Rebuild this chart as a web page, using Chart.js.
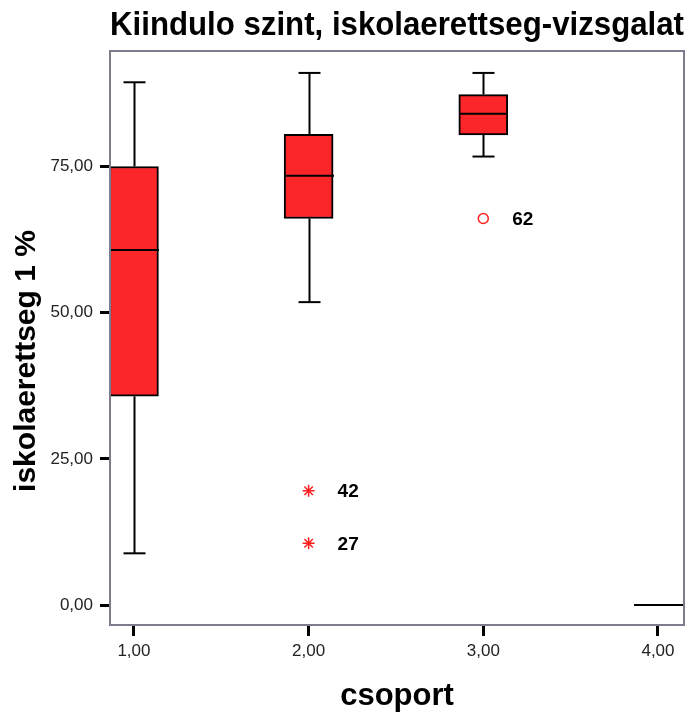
<!DOCTYPE html>
<html>
<head>
<meta charset="utf-8">
<script src="https://cdn.jsdelivr.net/npm/chart.js@4/dist/chart.umd.min.js"></script>
<style>
  html, body { margin: 0; padding: 0; background: #ffffff; }
  #wrap { width: 700px; height: 715px; }
</style>
</head>
<body>
<div id="wrap"><canvas id="c" width="700" height="715"></canvas></div>
<script>
// Box plot summary per group (csoport)
const groups = [1, 2, 3, 4];
const whiskerLow = [8.84, 51.8, 76.7, 0];
const q1 = [35.7, 66.1, 80.4, 0];
const median = [60.7, 73.4, 84.0, 0];
const q3 = [75.0, 80.5, 87.3, 0];
const whiskerHigh = [89.4, 91.0, 91.0, 0];

// Outliers (circle) and extreme values (star) with their case numbers
const outlierGroup = [3];
const outlierValue = [66.1];
const outlierCase = ['62'];
const extremeGroup = [2, 2];
const extremeValue = [19.55, 10.55];
const extremeCase = ['42', '27'];

// Axis ticks and titles
const xTicks = [1, 2, 3, 4];
const yTicks = [0, 25, 50, 75];
const yTitle = 'iskolaerettseg 1 %';

const fmt = v => Number(v).toFixed(2).replace('.', ',');
const HEAVY = '"Liberation Sans Narrow", "Liberation Sans", Arial, sans-serif';
const PLAIN = '"Liberation Sans", Arial, sans-serif';

// fine cross-hatched red fill for the boxes
function hatchFill() {
  const p = document.createElement('canvas');
  p.width = 4; p.height = 4;
  const g = p.getContext('2d');
  g.fillStyle = '#ff2222';
  g.fillRect(0, 0, 4, 4);
  g.fillStyle = '#f2303e';
  [[0, 0], [2, 2], [1, 3], [3, 1]].forEach(([x, y]) => g.fillRect(x, y, 1, 1));
  return g.createPattern(p, 'repeat');
}

// whiskers, caps, medians, frame, y title and case labels
const boxExtras = {
  id: 'boxExtras',
  afterDatasetsDraw(chart) {
    const { ctx, chartArea: a, scales: { x, y } } = chart;
    const boxHalf = 24.5, capHalf = 11;
    ctx.save();
    ctx.strokeStyle = '#000';
    ctx.lineWidth = 2;
    ctx.lineCap = 'butt';
    const seg = (x1, y1, x2, y2) => { ctx.beginPath(); ctx.moveTo(x1, y1); ctx.lineTo(x2, y2); ctx.stroke(); };
    groups.forEach((g, i) => {
      const cx = Math.round(x.getPixelForValue(g)) + 0.5;
      if (whiskerHigh[i] > q3[i]) {
        const top = y.getPixelForValue(whiskerHigh[i]);
        seg(cx, top, cx, y.getPixelForValue(q3[i]));
        seg(cx - capHalf, top, cx + capHalf, top);
      }
      if (whiskerLow[i] < q1[i]) {
        const bot = y.getPixelForValue(whiskerLow[i]);
        seg(cx, y.getPixelForValue(q1[i]), cx, bot);
        seg(cx - capHalf, bot, cx + capHalf, bot);
      }
      const my = y.getPixelForValue(median[i]);
      seg(cx - boxHalf, my, cx + boxHalf, my);
    });

    // plot frame
    ctx.strokeStyle = '#7c7c8c';
    ctx.lineWidth = 2;
    ctx.strokeRect(a.left, a.top, a.right - a.left, a.bottom - a.top);

    // y axis title, centred on its own position along the axis
    ctx.fillStyle = '#000';
    ctx.font = 'bold 30px ' + HEAVY;
    ctx.textAlign = 'center';
    ctx.textBaseline = 'middle';
    ctx.save();
    ctx.translate(27, 361);
    ctx.rotate(-Math.PI / 2);
    ctx.fillText(yTitle, 0, 0);
    ctx.restore();

    // case numbers next to outliers
    ctx.font = 'bold 19px ' + HEAVY;
    ctx.textAlign = 'left';
    ctx.textBaseline = 'middle';
    const labelFor = (dsIndex, names) => {
      chart.getDatasetMeta(dsIndex).data.forEach((pt, k) => {
        ctx.fillText(names[k], pt.x + 29, pt.y + 1);
      });
    };
    labelFor(1, outlierCase);
    labelFor(2, extremeCase);
    ctx.restore();
  }
};

const ctx = document.getElementById('c').getContext('2d');
const boxFill = hatchFill();

new Chart(ctx, {
  type: 'bar',
  data: {
    datasets: [
      {
        type: 'bar',
        data: groups.map((g, i) => ({ x: g, y: [q1[i], q3[i]] })),
        backgroundColor: boxFill,
        borderColor: '#000',
        borderWidth: 2,
        borderSkipped: false,
        barThickness: 49
      },
      {
        type: 'scatter',
        data: outlierGroup.map((g, i) => ({ x: g, y: outlierValue[i] })),
        pointStyle: 'circle',
        pointRadius: 5,
        borderColor: '#ff2020',
        backgroundColor: 'rgba(0,0,0,0)',
        borderWidth: 1.5
      },
      {
        type: 'scatter',
        data: extremeGroup.map((g, i) => ({ x: g, y: extremeValue[i] })),
        pointStyle: 'star',
        pointRadius: 6,
        borderColor: '#ff2020',
        backgroundColor: 'rgba(0,0,0,0)',
        borderWidth: 1.5
      }
    ]
  },
  options: {
    responsive: false,
    animation: false,
    events: [],
    layout: { padding: { top: 0, left: 0, right: 16, bottom: 0 } },
    plugins: {
      legend: { display: false },
      tooltip: { enabled: false },
      title: {
        display: true,
        text: 'Kiindulo szint, iskolaerettseg-vizsgalat',
        fullSize: false,
        color: '#000',
        font: { family: HEAVY, size: 32.5, weight: 'bold', lineHeight: 1.2 },
        padding: { top: 7, bottom: 5 }
      }
    },
    scales: {
      x: {
        type: 'linear',
        min: 0.863,
        max: 4.149,
        offset: false,
        afterBuildTicks: s => { s.ticks = xTicks.map(v => ({ value: v })); },
        afterFit: s => { s.height = 90; },
        grid: { offset: false, drawOnChartArea: false, drawTicks: true, tickLength: 11, tickWidth: 3, tickColor: '#000' },
        border: { display: false },
        ticks: { callback: v => fmt(v), color: '#222', font: { family: PLAIN, size: 17 }, padding: 5, maxRotation: 0, autoSkip: false },
        title: { display: true, text: 'csoport', color: '#000', font: { family: HEAVY, size: 31, weight: 'bold', lineHeight: 1.2 }, padding: { top: 0, bottom: 0 } }
      },
      y: {
        type: 'linear',
        min: -3.42,
        max: 94.75,
        afterBuildTicks: s => { s.ticks = yTicks.map(v => ({ value: v })); },
        afterFit: s => { s.width = 110; },
        grid: { offset: false, drawOnChartArea: false, drawTicks: true, tickLength: 10, tickWidth: 3, tickColor: '#000' },
        border: { display: false },
        ticks: { callback: v => fmt(v), color: '#222', font: { family: PLAIN, size: 17 }, padding: 7, autoSkip: false },
        title: { display: false }
      }
    }
  },
  plugins: [boxExtras]
});
</script>
</body>
</html>
